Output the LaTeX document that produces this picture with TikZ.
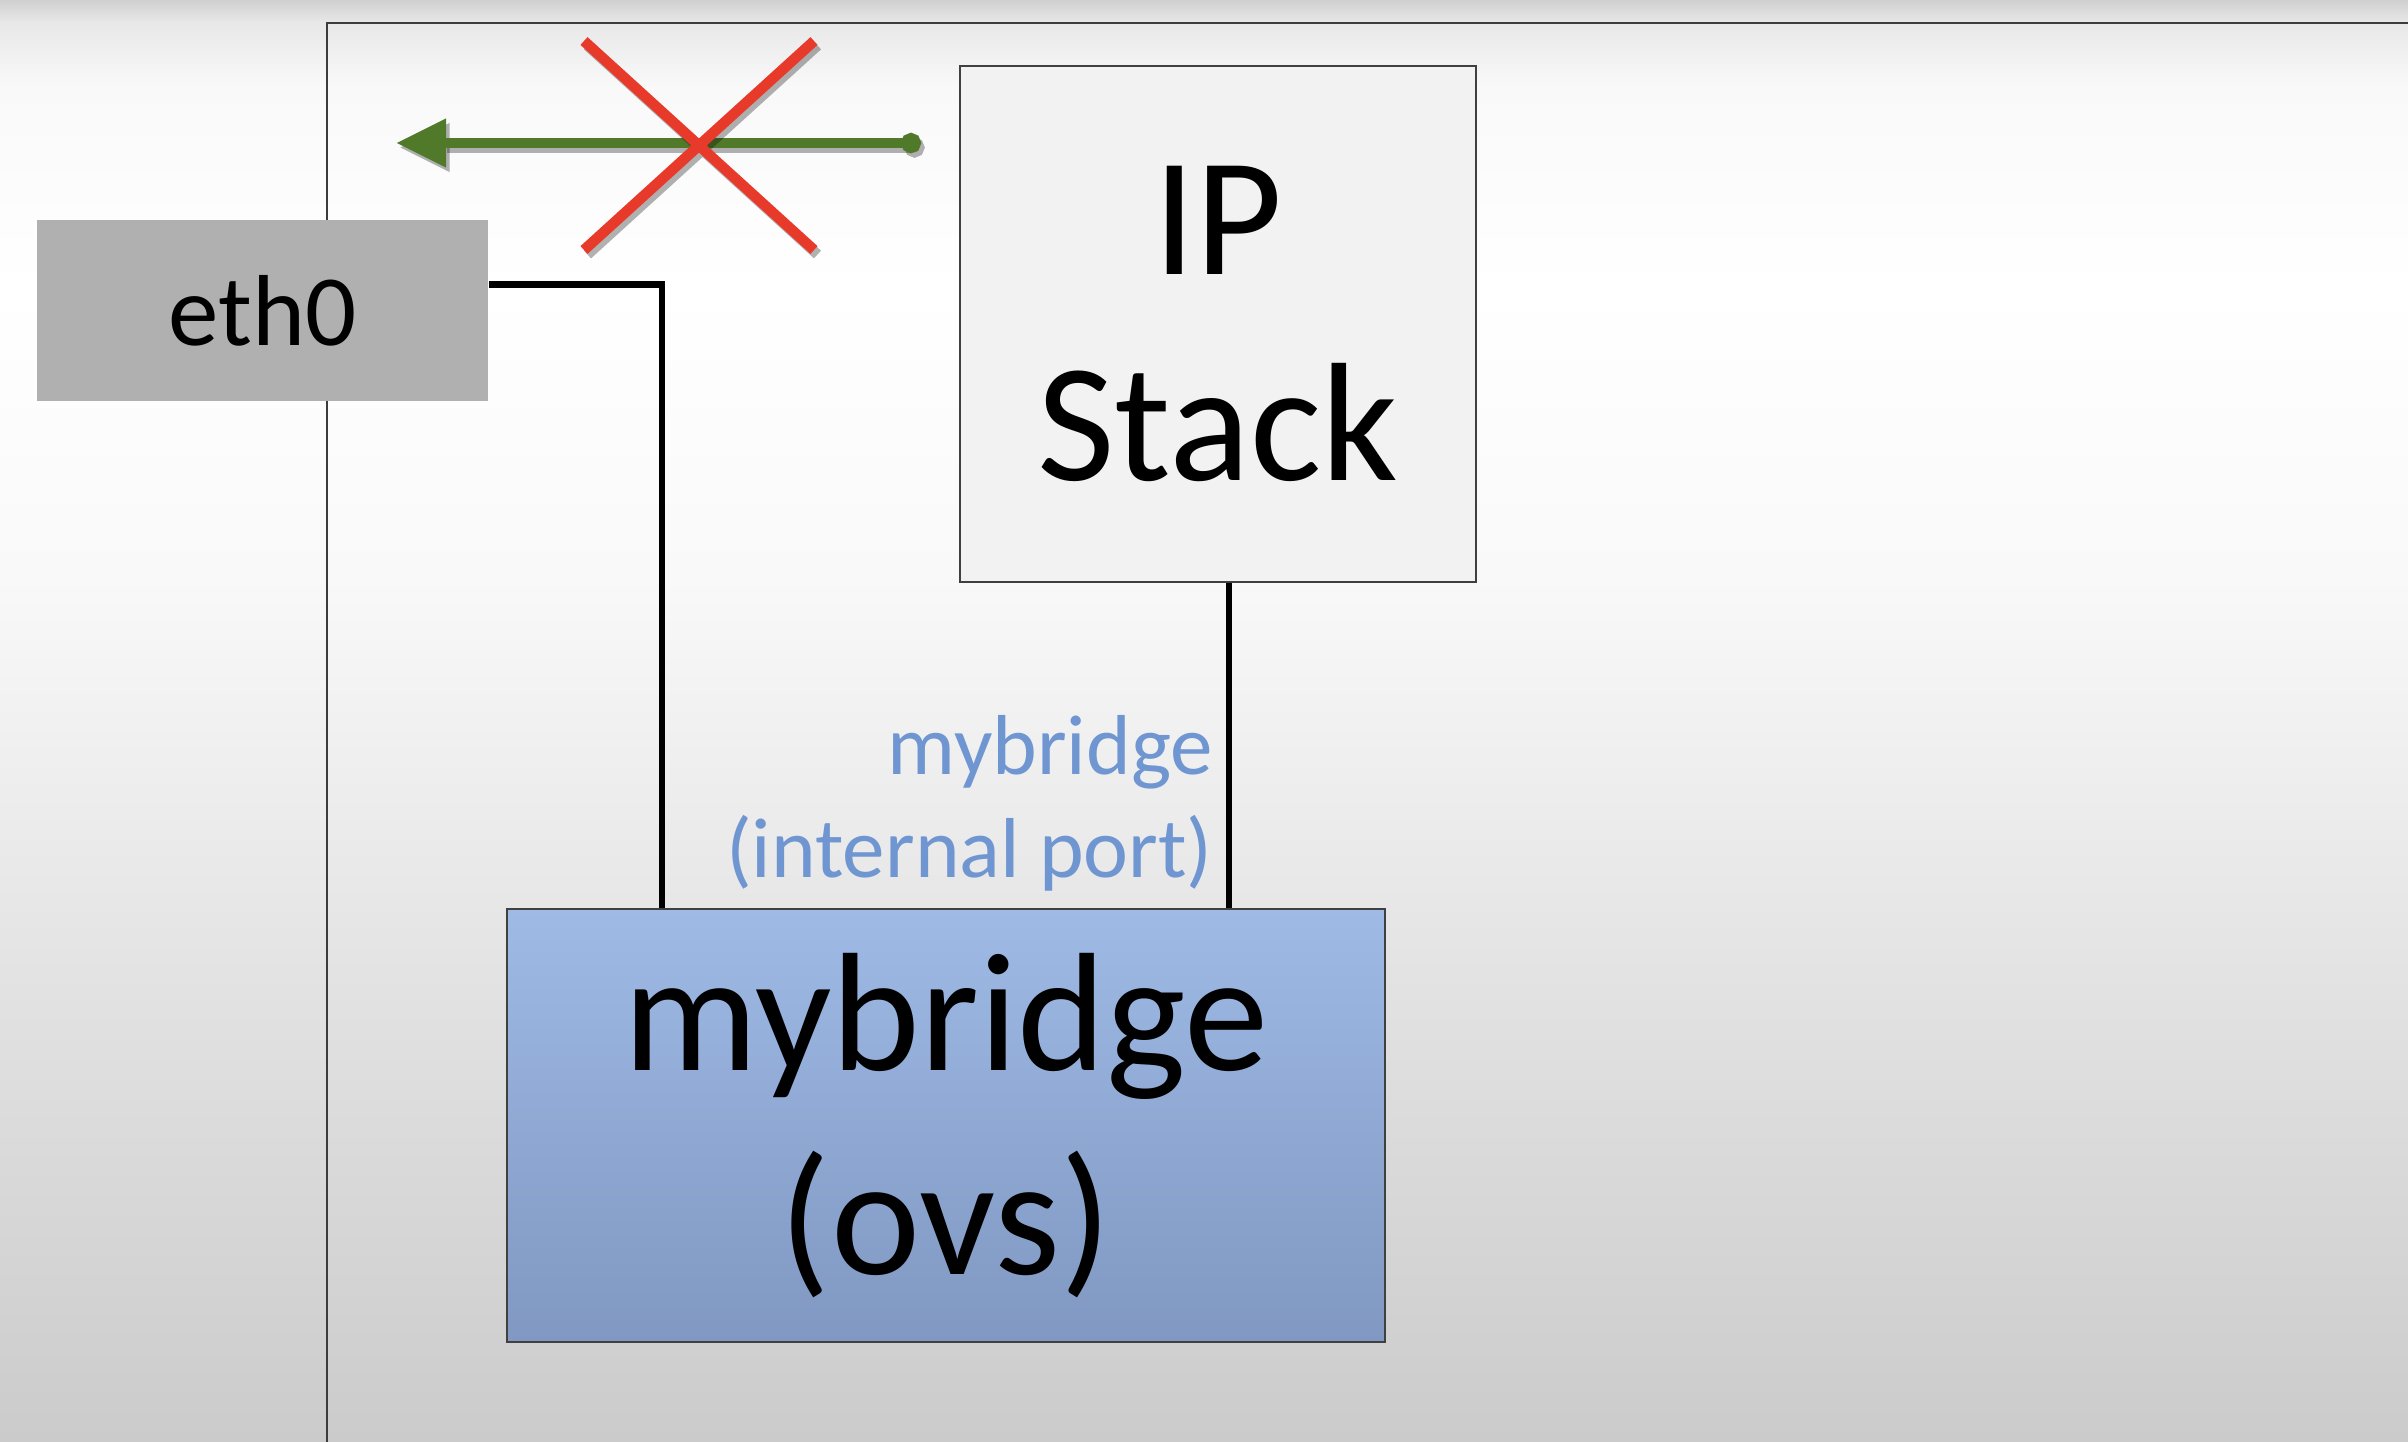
\documentclass[tikz,border=0pt]{standalone}
\usepackage{fontspec}
\setmainfont{Carlito}
\usepackage{xcolor}
\usetikzlibrary{arrows.meta,positioning}
\definecolor{bgtop}{RGB}{208,208,208}
\definecolor{bgnear}{RGB}{232,232,232}
\definecolor{bglight}{RGB}{249,249,249}
\definecolor{bgmid}{RGB}{225,225,225}
\definecolor{bgbot}{RGB}{203,203,203}
\definecolor{nicgray}{RGB}{176,176,176}
\definecolor{stackfill}{RGB}{242,242,242}
\definecolor{boxline}{RGB}{64,64,64}
\definecolor{bridgetop}{RGB}{158,186,229}
\definecolor{bridgebot}{RGB}{128,152,194}
\definecolor{portblue}{RGB}{112,150,210}
\definecolor{flowgreen}{RGB}{80,122,42}
\definecolor{crossred}{RGB}{232,58,42}
\definecolor{hostline}{RGB}{60,60,60}
\pgfdeclareverticalshading{slidebg}{100bp}{%
  color(0bp)=(bgbot); color(25bp)=(bgbot); color(40bp)=(bgmid);
  color(55bp)=(bglight); color(65bp)=(white); color(72bp)=(bglight);
  color(74.2bp)=(bgnear); color(75bp)=(bgtop); color(100bp)=(bgtop)}
\tikzset{%
  % boxes
  box/.style={draw=boxline, line width=0.6pt, inner sep=0pt, align=center},
  nic/.style={fill=nicgray, inner sep=0pt, minimum width=4.51cm, minimum height=1.81cm,
    font=\fontsize{28.7}{34}\selectfont},
  stack/.style={box, fill=stackfill, minimum width=5.16cm, minimum height=5.16cm,
    font=\fontsize{48}{58.5}\selectfont},
  bridge/.style={box, top color=bridgetop, bottom color=bridgebot,
    minimum width=8.78cm, minimum height=4.33cm, font=\fontsize{48}{58}\selectfont},
  port/.style={text=portblue, align=right, inner sep=0.13cm,
    font=\fontsize{24.2}{29.3}\selectfont},
  % lines
  host/.style={draw=hostline, line width=0.7pt},
  wire/.style={line width=1.8pt},
  flow/.style={draw=flowgreen, line width=0.105cm,
    {Triangle[length=0.5cm,width=0.46cm]}-{Circle[length=0.2cm]}},
  blocked/.style={draw=crossred, line width=0.105cm},
  dropshadow/.style={draw=black, opacity=0.3, transform canvas={shift={(0.035cm,-0.045cm)}}},
}

\begin{document}
\begin{tikzpicture}[x=0.01cm, y=-0.01cm]
  \useasboundingbox (0,0) rectangle (2408,1442);
  \shade[shading=slidebg] (0,0) rectangle (2408,1442);

  % Host frame
  \draw[host] (327,1442) |- (2408,23);

  % Interfaces and stack
  \node[nic] (eth0) at (262.5,310.5) {eth0};
  \node[stack] (ipstack) at (1218,324) {IP\\Stack};
  \node[bridge] (ovs) at (946,1125.5) {mybridge\\(ovs)};

  % Links
  \draw[wire] ([yshift=0.26cm]eth0.east) -| ([xshift=-2.84cm]ovs.north);
  \draw[wire] ([xshift=0.11cm]ipstack.south) -- ([xshift=0.11cm]ipstack.south |- ovs.north)
    node[port, anchor=south east] {mybridge\\(internal port)};

  % Blocked path
  \coordinate (txstart) at (921,143);
  \coordinate (txend) at (396,143);
  \coordinate (xa) at (584,41);
  \coordinate (xb) at (814,250);
  \coordinate (xc) at (814,41);
  \coordinate (xd) at (584,250);
  \draw[flow, dropshadow] (txend) -- (txstart);
  \draw[flow] (txend) -- (txstart);
  \draw[blocked, dropshadow] (xa) -- (xb) (xc) -- (xd);
  \draw[blocked] (xa) -- (xb) (xc) -- (xd);
\end{tikzpicture}
\end{document}
